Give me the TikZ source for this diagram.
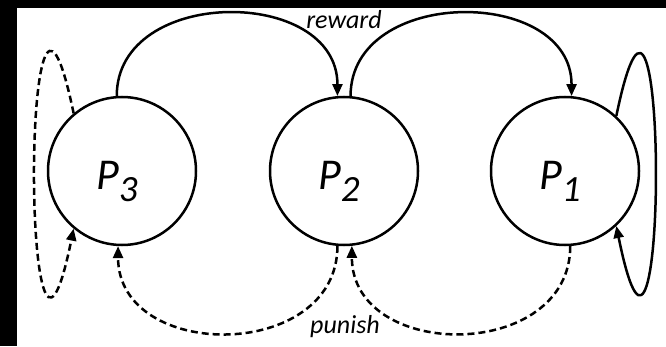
\documentclass[tikz,border=0pt]{standalone}
\usepackage{fontspec}
\setmainfont{Carlito}
\usepackage{tikz}
\usetikzlibrary{arrows.meta}
\definecolor{ink}{HTML}{000000}
\definecolor{paper}{HTML}{FFFFFF}
\tikzset{
  state/.style={circle, draw=ink, line width=2.5pt, minimum size=148pt, inner sep=0pt,
    text height=40pt, text depth=4pt, font=\fontsize{44}{50}\selectfont\itshape},
  lab/.style={text=ink, font=\fontsize{26}{30}\selectfont\itshape, inner sep=0pt},
  rew/.style={draw=ink, line width=2.5pt, -{Triangle[length=12pt, width=10pt]}},
  pun/.style={rew, dash pattern=on 7pt off 4pt}
}
\newcommand{\sub}[1]{\raisebox{-12pt}{\fontsize{37}{40}\selectfont #1}}

\begin{document}
\begin{tikzpicture}[x=1pt, y=1pt]
  \useasboundingbox (0,0) rectangle (666,346);
  \fill[paper] (0,0) rectangle (666,346);
  \fill[ink] (0,0) rectangle (17,346);
  \fill[ink] (0,338) rectangle (666,346);

  \node[state] (p3) at (122,175) {P\sub{3}\hspace*{10pt}};
  \node[state] (p2) at (344,175) {P\sub{2}\hspace*{10pt}};
  \node[state] (p1) at (565,175) {P\sub{1}\hspace*{10pt}};

  % reward: P3 -> P2 -> P1
  \draw[rew] (p3.94) .. controls +(0,110) and +(0,110) .. (p2.95);
  \draw[rew] (p2.85) .. controls +(0,110) and +(0,110) .. (p1.85);
  \node[lab, anchor=base] (rw) at (344,317) {reward};

  % punish: P1 -> P2 -> P3
  \draw[pun] (p1.-86) .. controls +(0,-116) and +(0,-116) .. (p2.-84);
  \draw[pun] (p2.-95) .. controls +(0,-116) and +(0,-116) .. (p3.-93);
  \node[lab, anchor=base] (pn) at (345,13) {punish};

  % self loops
  \draw[rew] (p1.47) .. controls +(53,256) and +(52,-256) .. (p1.-47);
  \draw[pun] (p3.130) .. controls +(-53,256) and +(-52,-256) .. (p3.-130);
\end{tikzpicture}
\end{document}
